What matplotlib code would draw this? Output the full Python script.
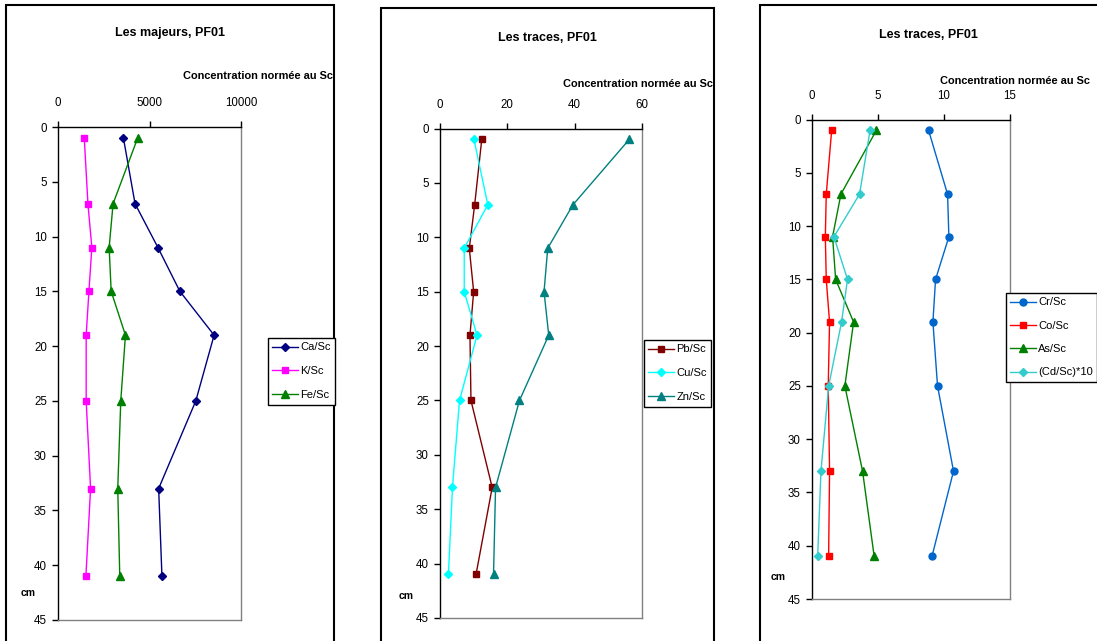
import matplotlib
matplotlib.use("Agg")
import matplotlib.pyplot as plt
from matplotlib.patches import Rectangle

plt.rcParams["font.family"] = ["Liberation Sans", "DejaVu Sans"]

W, H = 1097, 641

depth = [1, 7, 11, 15, 19, 25, 33, 41]

# majeurs
ca_sc = [3575, 4210, 5460, 6660, 8530, 7530, 5500, 5680]
k_sc = [1435, 1635, 1850, 1690, 1540, 1540, 1780, 1525]
fe_sc = [4355, 3010, 2795, 2905, 3685, 3430, 3265, 3375]

# traces
pb_sc = [12.4, 10.3, 8.7, 10.0, 8.9, 9.2, 15.5, 10.7]
cu_sc = [10.1, 14.2, 7.2, 7.2, 11.0, 5.8, 3.7, 2.5]
zn_sc = [56.2, 39.5, 32.0, 30.9, 32.3, 23.6, 16.5, 15.9]

cr_sc = [8.83, 10.27, 10.37, 9.36, 9.16, 9.51, 10.72, 9.09]
co_sc = [1.49, 1.08, 1.01, 1.08, 1.33, 1.23, 1.33, 1.26]
as_sc = [4.88, 2.19, 1.56, 1.79, 3.15, 2.49, 3.83, 4.71]
cd_sc10 = [4.40, 3.60, 1.66, 2.69, 2.24, 1.26, 0.68, 0.43]

titles = ["Les majeurs, PF01", "Les traces, PF01", "Les traces, PF01"]

panels = [
    {
        "frame": (6, 5, 334),
        "box": (58, 127, 241, 620),
        "xmax": 10000, "xticks": [0, 5000, 10000],
        "title_y": 33, "conc": (333, 76), "cm": (28, 593),
        "legend": (268, 338), "spacing": 1.25,
        "series": [
            ("Ca/Sc", ca_sc, "#000080", "D", 4.5),
            ("K/Sc", k_sc, "#FF00FF", "s", 5),
            ("Fe/Sc", fe_sc, "#008000", "^", 5.5),
        ],
    },
    {
        "frame": (381, 8, 714),
        "box": (440, 128.6, 642, 618),
        "xmax": 60, "xticks": [0, 20, 40, 60],
        "title_y": 38, "conc": (713, 84), "cm": (406, 596),
        "legend": (644, 340), "spacing": 1.25,
        "series": [
            ("Pb/Sc", pb_sc, "#800000", "s", 5),
            ("Cu/Sc", cu_sc, "#00FFFF", "D", 4.5),
            ("Zn/Sc", zn_sc, "#008080", "^", 5.5),
        ],
    },
    {
        "frame": (760, 5, 1105),
        "box": (812, 119.6, 1010, 599),
        "xmax": 15, "xticks": [0, 5, 10, 15],
        "title_y": 35, "conc": (1090, 81), "cm": (778, 577),
        "legend": (1006, 293), "spacing": 1.2,
        "series": [
            ("Cr/Sc", cr_sc, "#0066CC", "o", 5),
            ("Co/Sc", co_sc, "#FF0000", "s", 5),
            ("As/Sc", as_sc, "#008000", "^", 5.5),
            ("(Cd/Sc)*10", cd_sc10, "#33CCCC", "D", 4.5),
        ],
    },
]

fig = plt.figure(figsize=(W / 100, H / 100), dpi=100)
fig.patch.set_facecolor("white")

for p, title in zip(panels, titles):
    fl, ft, fr = p["frame"]
    fig.patches.append(Rectangle((fl / W, -0.1), (fr - fl) / W, 1.1 - ft / H,
                                 transform=fig.transFigure, fill=False,
                                 edgecolor="black", linewidth=1.5))

    l, t, r, b = p["box"]
    ax = fig.add_axes([l / W, 1 - b / H, (r - l) / W, (b - t) / H])
    handles = []
    for label, vals, color, mk, ms in p["series"]:
        h, = ax.plot(vals, depth, color=color, marker=mk, markersize=ms,
                     linewidth=1, label=label, clip_on=False)
        handles.append(h)

    ax.set_xlim(0, p["xmax"])
    ax.set_ylim(45, 0)
    ax.set_xticks(p["xticks"])
    ax.set_yticks(range(0, 46, 5))
    ax.xaxis.tick_top()
    ax.tick_params(axis="both", direction="out", length=4, width=1,
                   labelsize=8.3)
    ax.tick_params(axis="y", pad=4)
    ax.tick_params(axis="x", pad=9)
    for s in ("left", "top"):
        ax.spines[s].set_color("black")
        ax.spines[s].set_linewidth(1)
    for s in ("right", "bottom"):
        ax.spines[s].set_color("#808080")
        ax.spines[s].set_linewidth(1)

    cx = (fl + min(fr, 1097)) / 2
    fig.text(cx / W, 1 - p["title_y"] / H, title, ha="center", va="center",
             fontsize=9, fontweight="bold")
    xc, yc = p["conc"]
    fig.text(xc / W, 1 - yc / H, "Concentration normée au Sc", ha="right",
             va="center", fontsize=7.9, fontweight="bold")
    xm, ym = p["cm"]
    fig.text(xm / W, 1 - ym / H, "cm", ha="center", va="center",
             fontsize=7.5, fontweight="bold")

    lx, ly = p["legend"]
    leg = fig.legend(handles=handles, loc="upper left",
                     bbox_to_anchor=(lx / W, 1 - ly / H), fontsize=8,
                     fancybox=False, framealpha=1, edgecolor="black",
                     handlelength=2.3, borderpad=0.4,
                     labelspacing=p["spacing"], handletextpad=0.2,
                     borderaxespad=0)
    leg.get_frame().set_linewidth(1)

fig.savefig("out.png", dpi=100, facecolor="white")
